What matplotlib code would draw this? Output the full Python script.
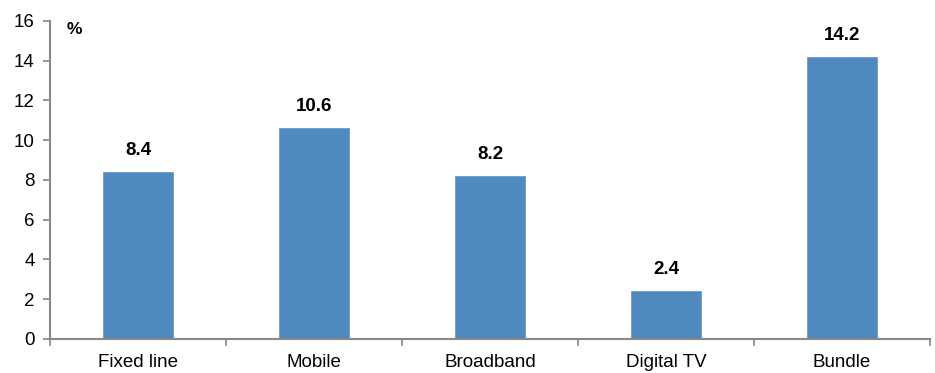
import matplotlib.pyplot as plt
from matplotlib import font_manager
from matplotlib.ticker import FixedLocator

# data
categories = ['Fixed line', 'Mobile', 'Broadband', 'Digital TV', 'Bundle']
values = [8.4, 10.6, 8.2, 2.4, 14.2]
yticks = [0, 2, 4, 6, 8, 10, 12, 14, 16]

names = {f.name for f in font_manager.fontManager.ttflist}
fam = 'Liberation Sans Narrow' if 'Liberation Sans Narrow' in names else 'Liberation Sans'
plt.rcParams['font.family'] = [fam, 'DejaVu Sans']

bar_col = '#4f89bd'
axis_col = '#888888'

fig = plt.figure(figsize=(9.35, 3.73), dpi=100)
ax = fig.add_axes([0.0535, 0.0912, 0.9412, 0.8525])

x = list(range(len(categories)))
ax.bar(x, values, width=0.40, color=bar_col, edgecolor='#6a9ccb', linewidth=0.6, zorder=2)

for xi, v in zip(x, values):
    ax.text(xi, v + 0.65, '%.1f' % v, ha='center', va='bottom',
            fontsize=13.5, fontweight='bold')

ax.set_xlim(-0.5, len(categories) - 0.5)
ax.set_ylim(0, 16)
ax.set_yticks(yticks)
ax.set_yticklabels([str(t) for t in yticks], fontsize=13.5)

# category labels in the middle, tick marks on the boundaries
ax.set_xticks(x)
ax.set_xticklabels(categories, fontsize=13.5)
ax.tick_params(axis='x', which='major', length=0, pad=11)
ax.xaxis.set_minor_locator(FixedLocator([i - 0.5 for i in range(len(categories) + 1)]))
ax.tick_params(axis='x', which='minor', length=5, width=1.2, color=axis_col, direction='out')
ax.tick_params(axis='y', length=5, width=1.2, color=axis_col, direction='out', pad=6)

for s in ['top', 'right']:
    ax.spines[s].set_visible(False)
for s in ['left', 'bottom']:
    ax.spines[s].set_color(axis_col)
    ax.spines[s].set_linewidth(1.5)

fig.text(0.071, 0.92, '%', fontsize=12.5, fontweight='bold', ha='left', va='center')

fig.savefig('out.png', dpi=100)
